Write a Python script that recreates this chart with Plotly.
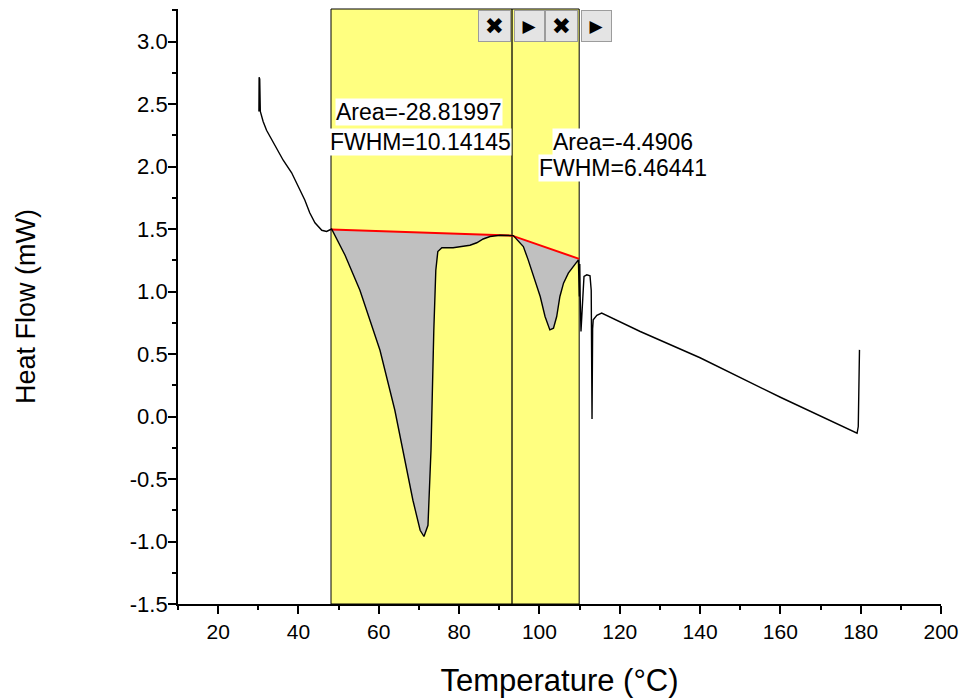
import plotly.graph_objects as go
import numpy as np

# ---- data ----
temp = [30.15, 30.2, 30.35, 30.5, 31.2, 32.05, 33.7, 36.2, 38.3, 39.9, 41.6, 42.8, 44.1, 45.8, 47.0, 48.25,
        51.6, 55.3, 60.3, 64.0, 66.5, 68.5, 70.3, 71.25, 72.25, 73.0, 73.7, 74.2, 74.7, 75.7, 78.5, 80.2,
        82.7, 84.4, 86.0, 87.7, 90.2, 93.5, 96.0, 97.2, 98.5, 100.2, 101.4, 102.6, 103.5, 104.3, 105.1,
        106.0, 107.2, 108.5, 109.7, 109.95, 110.05, 110.15, 110.35, 110.8, 111.1, 111.8, 112.6, 112.9,
        113.0, 113.1, 113.25, 113.4, 114.3, 115.5, 125.1, 140.0, 160.0, 179.1, 179.4, 179.7]
heat = [2.44, 2.715, 2.70, 2.44, 2.36, 2.29, 2.19, 2.05, 1.95, 1.84, 1.73, 1.63, 1.55, 1.49, 1.48, 1.50,
        1.29, 1.01, 0.53, 0.05, -0.35, -0.67, -0.91, -0.96, -0.87, -0.27, 0.69, 1.17, 1.32, 1.35, 1.35, 1.36,
        1.37, 1.39, 1.42, 1.44, 1.45, 1.447, 1.36, 1.253, 1.12, 0.96, 0.80, 0.693, 0.706, 0.80, 0.96,
        1.067, 1.147, 1.20, 1.253, 0.96, 1.22, 0.96, 0.68, 0.946, 1.12, 1.133, 1.125, 1.01,
        0.69, -0.02, 0.70, 0.773, 0.81, 0.827, 0.68, 0.47, 0.154, -0.134, -0.08, 0.533]

region_edges = [48.1, 93.2, 109.9]
base_x = [48.1, 93.2, 109.9]
base_y = [1.497, 1.447, 1.261]

peak_area = ["Area=-28.81997", "Area=-4.4906"]
peak_fwhm = ["FWHM=10.14145", "FWHM=6.46441"]

x_ticks = [20, 40, 60, 80, 100, 120, 140, 160, 180, 200]
y_ticks = [-1.5, -1.0, -0.5, 0.0, 0.5, 1.0, 1.5, 2.0, 2.5, 3.0]

# ---- figure ----
fig = go.Figure()

t = np.array(temp)
h = np.array(heat)
for i in range(2):
    a, b = region_edges[i], region_edges[i + 1]
    m = (t >= a) & (t <= b)
    px = [a] + list(t[m]) + [b, a]
    py = [base_y[i]] + list(h[m]) + [base_y[i + 1], base_y[i]]
    fig.add_trace(go.Scatter(x=px, y=py, mode="lines", fill="toself",
                             fillcolor="#C0C0C0", line=dict(width=0), hoverinfo="skip",
                             showlegend=False))

fig.add_trace(go.Scatter(x=base_x, y=base_y, mode="lines",
                         line=dict(color="#FF0000", width=2), showlegend=False))
fig.add_trace(go.Scatter(x=temp, y=heat, mode="lines",
                         line=dict(color="black", width=1.4), showlegend=False))

for i in range(2):
    fig.add_shape(type="rect", xref="x", yref="paper",
                  x0=region_edges[i], x1=region_edges[i + 1], y0=0, y1=1,
                  fillcolor="#FFFF80", line=dict(color="black", width=1), layer="below")

font_txt = dict(family="Liberation Sans, Arial", size=23, color="black")
ann_pos = [((70.0, 2.433), (70.5, 2.20)), ((120.7, 2.20), (120.9, 1.987))]
for i in range(2):
    (xa, ya), (xf, yf) = ann_pos[i]
    fig.add_annotation(x=xa, y=ya, xref="x", yref="y", text=peak_area[i], showarrow=False,
                       bgcolor="white", font=font_txt, borderpad=0)
    fig.add_annotation(x=xf, y=yf, xref="x", yref="y", text=peak_fwhm[i], showarrow=False,
                       bgcolor="white", font=font_txt, borderpad=0)

# region buttons
for edge in region_edges[1:]:
    fig.add_annotation(x=edge, xref="x", y=1, yref="paper", yanchor="top", xanchor="right",
                       yshift=-1, xshift=-1, text="✖", showarrow=False, width=31, height=30,
                       bgcolor="#E4E4E4", bordercolor="#9C9C9C", borderwidth=1, borderpad=0,
                       font=dict(family="DejaVu Sans", size=23, color="black"))
    fig.add_annotation(x=edge, xref="x", y=1, yref="paper", yanchor="top", xanchor="left",
                       yshift=-1, xshift=2, text="▶", showarrow=False, width=29, height=30,
                       bgcolor="#E4E4E4", bordercolor="#9C9C9C", borderwidth=1, borderpad=0,
                       font=dict(family="DejaVu Sans", size=17, color="black"))

tick_font = dict(family="Liberation Sans, Arial", size=21, color="black")
ytick_font = dict(family="Liberation Sans, Arial", size=22, color="black")
xtitle_font = dict(family="Liberation Sans, Arial", size=31, color="black")
ytitle_font = dict(family="Liberation Sans, Arial", size=27, color="black")

fig.update_xaxes(range=[10, 200], tickvals=x_ticks, ticktext=[str(v) for v in x_ticks],
                 ticks="outside", ticklen=8, tickwidth=1.5, tickcolor="black", automargin=False,
                 showline=True, linecolor="black", linewidth=1.8, showgrid=False, zeroline=False,
                 minor=dict(dtick=10, tick0=0, ticks="outside", ticklen=4, tickwidth=1.5, tickcolor="black"),
                 tickfont=tick_font, title=dict(text="Temperature (°C)", font=xtitle_font, standoff=27))
fig.update_yaxes(range=[-1.5, 3.26], tickvals=y_ticks, ticktext=[f"{v:.1f}" for v in y_ticks],
                 ticks="outside", ticklen=8, tickwidth=1.5, tickcolor="black", ticklabelstandoff=-4,
                 automargin=False,
                 showline=True, linecolor="black", linewidth=1.8, showgrid=False, zeroline=False,
                 minor=dict(dtick=0.25, tick0=0, ticks="outside", ticklen=4, tickwidth=1.5, tickcolor="black"),
                 tickfont=ytick_font, title=dict(text="Heat Flow (mW)", font=ytitle_font, standoff=86))

fig.update_layout(width=970, height=698, margin=dict(l=178, r=29, t=9, b=94),
                  plot_bgcolor="white", paper_bgcolor="white", showlegend=False)

fig.write_html("out.html")
